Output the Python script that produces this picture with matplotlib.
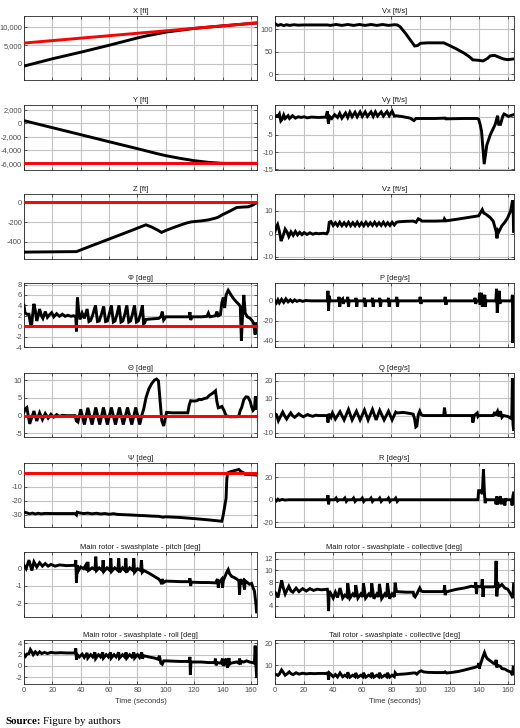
import matplotlib
matplotlib.use('Agg')
import matplotlib.pyplot as plt
from matplotlib.ticker import FuncFormatter

plt.rcParams['font.family'] = ['Liberation Sans', 'DejaVu Sans']

# ---- data (time in seconds) ----
x_t = [0, 10, 20, 30, 40, 50, 60, 70, 80, 88, 95, 100, 110, 120, 130, 140, 150, 164]
x_v = [-700, 300, 1300, 2200, 3100, 4050, 5000, 6000, 7000, 7700, 8200, 8600, 9100, 9600,
       9960, 10300, 10630, 11100]
x_ref_t = [0, 164]
x_ref_v = [5600, 11100]

y_t = [0, 20, 40, 60, 80, 93, 100, 110, 120, 130, 140, 164]
y_v = [400, -650, -1700, -2760, -3800, -4500, -4850, -5250, -5600, -5850, -6000, -6000]
y_ref_t = [0, 164]
y_ref_v = [-6000, -6000]

z_t = [0, 37, 45, 55, 65, 75, 82, 86, 90, 94, 97, 100, 105, 110, 115, 118, 125, 130,
       135, 137, 140, 145, 150, 155, 158, 161, 164]
z_v = [-505, -500, -455, -400, -345, -290, -250, -228, -250, -280, -305, -285, -258, -232,
       -208, -198, -188, -178, -160, -150, -125, -90, -52, -47, -45, -30, -5]
z_ref_t = [0, 164]
z_ref_v = [0, 0]

phi_t = [0, 0.7, 2, 3.5, 4.5, 5.2, 6, 7, 8, 9, 10, 11, 12.3, 13.3, 15, 16.5, 18, 19.5, 21,
         23, 25, 27, 29, 31, 33, 35, 36.5, 37, 37.3, 37.7, 38.5, 39.5, 41, 42.5, 44.5, 45.8,
         47, 48.5, 50.4, 51.8, 53, 54.5, 56.2, 57.5, 58.8, 60, 61.6, 63, 64.2, 65.5, 67,
         68.4, 69.7, 71, 72.5, 73.9, 75.1, 76.4, 77.9, 79.3, 80.6, 82, 83.5, 84.3, 85, 86,
         90, 95, 96.5, 97.5, 98.5, 100, 110, 116.5, 117, 117.5, 118.5, 125, 129, 130, 131,
         135, 136, 137, 138.5, 139.5, 140.5, 141.5, 142.5, 144, 146, 148, 150, 151.5, 152.5,
         153.3, 154, 155, 156, 157.5, 159.5, 161, 162, 163, 163.7, 164]
phi_v = [4, 2.6, 2.3, 2.3, 0.5, -0.3, 2, 4.3, 3, 1, 2, 3.3, 2, 1.5, 2.8, 1.7, 2.2, 2.6, 1.8,
         2.4, 1.9, 2.3, 1.9, 2.1, 1.9, 2, 1.8, -1, 3, 5.5, 3, 1.3, 2.5, 1.5, 3.3, 0.9,
         1.1, 2.2, 4, 0.9, 1, 2.2, 3.8, 0.9, 1, 2.2, 4, 0.8, 1, 2.2, 4,
         0.8, 1, 2.2, 4, 0.8, 1, 2.2, 4, 0.8, 1, 2.2, 4, 0.5, 0.6, 1.3,
         1.4, 1.5, 1.8, 2.8, 1.2, 1.8, 1.8, 1.8, 2.7, 1.2, 1.8, 1.8, 1.9, 2.5, 1.8,
         2, 2.8, 2, 2.2, 4.5, 5.5, 3.5, 6, 6.9, 6, 5.2, 4.6, 4.2, 3.8,
         -2.8, 1.5, 6, 2.5, 1.8, 1.5, 1, 0.5, -1.6, 0.7, 0.5]
phi_ref_t = [0, 164]
phi_ref_v = [0, 0]

theta_t = [0, 1, 2, 3, 4, 5.5, 7, 9, 11, 13, 15, 17, 19, 21, 23, 25, 27, 30, 33, 36, 37, 38,
           40, 42.6, 45, 48, 50.6, 53.4, 56, 58.8, 61.6, 64.5, 67.3, 70, 73, 76, 78.8, 81.6,
           83, 84.5, 86, 88, 90, 92, 93.5, 94.8, 96, 97.2, 98.5, 99.5, 100.5, 105, 110,
           115.5, 116.5, 117.5, 120, 122, 123.5, 125, 127, 129, 131, 133, 135, 136, 137, 138,
           139.5, 141, 142.5, 145, 150, 151.5, 152.5, 153.5, 155, 156.5, 158, 159.5, 160.5,
           161.5, 162.5, 163.2, 163.6, 164]
theta_v = [1, 2, 2.3, 0, -2.3, -0.5, 1.3, -1.5, 0.8, -1.1, 0.6, -0.7, 0.4, -0.4, 0.3, -0.2,
           0.1, 0, 0, 0, -1.5, -1.8, 1.8, -2.5, 2.2, -2.5, 2.3, -2.5, 2.3, -2.5, 2.3, -2.5,
           2.3, -2.5, 2.3, -2.5, 2.3, -2.5, 0, 2, 5, 7.5, 9, 10, 10.3, 9.8, 4, -1.5, -2.9,
           -1, 0.9, 0.8, 0.8, 0.8, 3, 4.2, 4.1, 4.2, 4.6, 4.5, 4.8, 5, 5.8, 6.3, 7, 4, 2.2,
           2.3, 2.6, 1.5, 0, -0.3, -0.3, 0, 1.5, 2.3, 4.5, 5.3, 5.2, 4, 2.5, 1.5, 2, 5.5, 4, 2]
theta_ref_t = [0, 164]
theta_ref_v = [0, 0]

psi_t = [0, 2, 4, 6, 8, 10, 12, 15, 20, 25, 30, 36, 37, 37.5, 39, 42, 45, 48, 51, 54, 57,
         60, 63, 66, 70, 75, 80, 85, 90, 95, 98, 100, 110, 120, 130, 139.5, 140.5, 141.5,
         142.5, 143, 143.5, 146, 149, 151.5, 153, 155, 156, 160, 164]
psi_v = [-28, -28.5, -29.2, -28.7, -29.3, -28.8, -29.2, -28.9, -29, -29, -29, -29, -30, -28,
         -28.5, -29, -28.7, -29.2, -28.8, -29.3, -29, -29.5, -29.1, -29.6, -29.8, -30,
         -30.3, -30.5, -30.8, -31, -31.6, -31.3, -31.8, -32.6, -33.5, -34.5, -30, -24, -18,
         -5, 0, 1, 1.8, 2.5, 1, 0, -1, -1.2, -1.5]
psi_ref_t = [0, 164]
psi_ref_v = [0, 0]

pitch_t = [0, 1.5, 3.5, 4.5, 5.5, 7, 9, 11, 13, 15, 17, 19, 22, 25, 30, 36, 36.5, 37, 37.5,
           38.5, 40, 42, 43.5, 44.5, 45, 45.5, 48, 50, 50.6, 51.2, 53, 55.2, 55.8, 56.4,
           58.5, 60.6, 61.2, 61.8, 64, 66.2, 66.8, 67.4, 69.5, 71.2, 71.8, 72.4, 74.5, 76.8,
           77.4, 78, 80, 82.2, 82.8, 83.4, 84.5, 89, 93, 95, 96.5, 97, 97.5, 98.5, 100, 105,
           110, 116.5, 117, 117.5, 118, 125, 130, 135, 136.5, 137, 137.5, 139.5, 140, 140.5,
           142, 143, 144, 145, 146.5, 148, 150, 151.5, 152, 152.5, 153.5, 154.5, 155.5, 156,
           157.5, 159, 160.5, 161.5, 162.5, 163.2, 163.7, 164]
pitch_v = [0.2, 0, 0.5, 0.2, -0.1, 0.4, 0.1, 0.35, 0.15, 0.3, 0.15, 0.25, 0.15, 0.22, 0.18,
           0.2, 0.5, -0.8, 0.2, -0.1, 0.1, 0, 0.2, -0.1, 0.4, -0.1, 0.05, -0.05, 0.7, -0.1,
           0.05, -0.1, 0.5, -0.15, 0.05, -0.1, 0.6, -0.15, 0.05, -0.1, 0.6, -0.2, 0.05, -0.1,
           0.6, -0.2, 0.05, -0.1, 0.6, -0.2, 0, -0.1, 0.5, -0.2, -0.1, -0.3, -0.5, -0.6,
           -0.75, -0.9, -0.6, -0.8, -0.72, -0.73, -0.75, -0.75, -0.55, -1, -0.78, -0.8, -0.8,
           -0.82, -0.6, -1.1, -0.8, -0.6, -1.1, -0.7, -0.4, -0.2, -0.05, -0.3, -0.45, -0.5,
           -0.6, -0.7, -1.5, -0.6, -0.8, -0.7, -1.2, -0.7, -0.8, -0.9, -0.85, -1.1, -1.3,
           -1.8, -2.2, -2.5]

roll_t = [0, 1, 2, 3.5, 4.5, 5.5, 6.5, 8, 9.5, 11, 12.5, 14.5, 16.5, 19, 22, 26, 30, 36,
          36.5, 37, 37.5, 39, 41, 42.5, 44.5, 45, 47, 48.5, 50, 50.5, 52.5, 54, 55.5, 56, 58,
          59.5, 61, 61.5, 63.5, 65, 66.8, 67.3, 69.5, 71, 72, 72.5, 74.5, 76, 77.5, 78, 80,
          81.5, 83, 83.5, 84.5, 88, 92, 94.5, 95.5, 96.5, 97.5, 98.5, 100, 110, 116.5, 117,
          117.3, 117.7, 125, 130, 134.5, 135, 135.5, 136, 139, 140, 140.5, 141.5, 142.5, 143,
          143.5, 144.5, 145, 146, 148, 150, 151.5, 152, 152.5, 153.5, 155, 157, 159, 161,
          162.5, 163, 163.5, 164]
roll_v = [2, 1.7, 2.1, 2.2, 2.9, 2.5, 2, 2.5, 2.1, 2.5, 2.2, 2.4, 2.2, 2.4, 2.3, 2.35, 2.3,
          2.3, 3.1, 1.1, 2, 1.6, 2.1, 1.5, 2.3, 1.4, 2, 1.6, 2.4, 1.3, 2, 1.6, 2.4, 1.4, 2,
          1.6, 2.4, 1.4, 2, 1.6, 2.4, 1.4, 2, 1.6, 2.4, 1.4, 2, 1.6, 2.4, 1.4, 2, 1.5, 2.4,
          1.3, 1.8, 1.6, 1.4, 1.2, 1.8, 0.5, 0.3, 0.9, 0.9, 0.8, 0.8, 1.6, -1.6, 0.7, 0.7,
          0.6, 0.6, 1.3, 0.1, 0.6, 0.5, 1.3, 0, 0.6, 1.3, 0.1, -0.3, 1.4, 0.3, 0.5, 0.6,
          0.7, 0.5, 1.3, 0.3, 0.8, 0.7, 0.9, 0.7, 0.6, 0.5, 3.6, 0.5, -1.9]

vx_t = [0, 2, 4, 6, 8, 10, 13, 16, 20, 25, 30, 36, 38, 42, 46, 50, 54, 58, 62, 66, 70, 74,
        78, 82, 84, 86, 90, 94, 96, 98, 100, 105, 110, 116, 120, 125, 130, 134, 136, 140,
        143, 146, 148, 151, 154, 157, 160, 164]
vx_v = [113, 109, 111, 108.5, 110.5, 109, 110.5, 109.5, 110, 110, 110, 110, 109, 111, 109,
        111, 109, 111, 109, 111, 109, 111, 109, 110.5, 110, 106, 90, 72, 63, 64, 69, 70, 70,
        70, 64, 56, 47, 38, 32, 31, 29.5, 35, 41, 42, 38, 34, 32.5, 34]

vy_t = [0, 1, 2, 3, 4, 5, 6, 7, 8, 9, 10, 12, 14, 16, 18, 20, 22, 25, 30, 35, 36, 36.7,
        37.5, 39, 41, 43, 44.5, 46, 48.5, 50, 51.5, 53, 55, 56.5, 58.5, 60, 62, 63.5, 66,
        67.5, 69, 70.5, 73, 74.5, 77, 78.5, 80.5, 82, 83.5, 88, 93, 95.5, 97, 100, 110,
        117, 117.5, 130, 139, 140, 141, 142, 143.8, 145.6, 148, 151.4, 153, 153.8, 155,
        156.7, 157.5, 160.5, 164]
vy_v = [0.2, 0.5, 0.3, 1, -1, -0.5, 0.7, -0.3, 0.1, 0.5, -0.3, 0.5, -0.2, 0.2, 0, 0.2, -0.1,
        0.1, 0, 0.1, 1.8, -1.8, 0.3, -0.3, 0.8, 0, 1.2, -0.2, 1.3, 0, 1.5, 0.2, 1.5, 0.2,
        1.6, 0.3, 1.6, 0.3, 1.6, 0.3, 1.6, 0.4, 1.6, 0.4, 1.7, 0.5, 1.8, 0.4, 0.5, 0.2,
        -0.2, -0.9, -0.3, -0.3, -0.3, -0.2, -0.4, -0.3, -0.3, -0.5, -2, -4, -13.5, -8, -5,
        -2, 0.5, -2, -2, 0.5, 1, 0.3, 0.8]

vz_t = [0, 1, 1.8, 3, 4.2, 5.5, 7, 8.5, 9.5, 11, 12.5, 14, 15.5, 17, 18.5, 20, 22, 24, 26,
        28, 30, 33, 35.5, 36.5, 37.3, 38.5, 40, 41.5, 43, 44.5, 46, 47.5, 49, 50.5, 52,
        53.5, 55, 56.5, 58, 59.5, 61, 62.5, 64, 65.5, 67, 68.5, 70, 71.5, 73, 74.5, 76,
        77.5, 79, 80.5, 82, 83.5, 85, 90, 95, 97, 98.5, 100, 101, 110, 116, 116.5, 117.5,
        125, 130, 135, 140, 142.5, 143.5, 145, 148, 150, 152, 152.6, 153.3, 154, 156, 158,
        160, 162, 163.3, 163.8, 164]
vz_v = [1, 3, 4, 1, -3.2, -1, 2, 0.5, -1.2, 0.8, -0.7, 1, -0.5, 0.6, -0.4, 0.5, -0.3, 0.4,
        -0.2, 0.2, 0, 0.2, 0, 1, 5, 5.3, 3.6, 4.8, 3.5, 5, 3.5, 4.8, 3.5, 5, 3.5, 4.8, 3.5,
        5, 3.5, 4.8, 3.5, 5, 3.6, 4.8, 3.6, 5, 3.6, 4.8, 3.6, 5, 3.6, 4.8, 3.6, 5, 3.8, 5,
        5.2, 5.4, 5.5, 5, 6.5, 6, 5.5, 5.5, 5.6, 6.5, 5.6, 6.3, 6.8, 7.3, 7.8, 10.5, 9,
        8.5, 7, 5.5, 1, -2, 1.5, 1, 3.5, 5, 7, 10, 14.5, 8, 1]

p_t = [0, 1, 2, 3, 4.5, 6, 7.5, 9, 10.5, 12, 13.5, 15, 17, 19, 21, 25, 36, 36.4, 36.8,
       37.3, 38, 43.5, 44, 44.5, 45, 46.5, 47, 47.5, 49.5, 50, 50.5, 51, 55.2, 55.7, 56.2,
       56.7, 61, 61.5, 62, 62.5, 66.5, 67, 67.5, 68, 71.5, 72, 72.5, 73, 77.5, 78, 78.5, 79,
       83.2, 83.7, 84.2, 84.7, 99.3, 99.8, 100.3, 100.8, 116.5, 117, 117.5, 118, 137,
       137.5, 138, 138.5, 140.3, 140.6, 141, 141.5, 142, 142.5, 143, 144.3, 144.6, 145,
       151.8, 152.3, 152.8, 153.3, 154.2, 154.6, 155, 162.8, 163.2, 163.6, 164]
p_v = [0, -2, 1, -2, 1.5, -1.5, 2, -1, 1, -1, 1, -0.5, 0.5, -0.5, 0.3, 0, 0, 10, -10, 5, 0,
       0, 4, -6, 0, 2, -3, 0, 0, 4, -6, 0, 0, 3, -6, 0, 0, 3, -6, 0, 0, 3, -6, 0, 0, 3,
       -6, 0, 0, 3, -6, 0, 0, 4, -6, 0, 0, 4, -3, 0, 0, 4, -4, 0, 0, 3, -3, 0, 0, 8, -4, 0,
       8, -6, 0, 6, -6, 0, 0, 12, -12, 0, 10, -3, 0, 0, 6, -42, -1]

q_t = [0, 1, 2.3, 3.5, 5.3, 6.5, 8, 9.5, 10.8, 12, 13.5, 15, 16.3, 18, 19.5, 21, 22.5, 24,
       26, 28, 30, 36, 36.4, 37, 38.5, 39.5, 41.5, 44.7, 47.5, 50.5, 53, 56, 58.5, 61.5,
       64, 67, 69.5, 72, 75, 78, 80.5, 83, 84, 88, 92, 95, 96, 96.8, 97.5, 98.5, 99.5,
       100.5, 102, 116, 116.5, 117.2, 135.5, 136, 136.5, 137, 139, 139.5, 140, 150, 151,
       151.5, 153, 154, 155, 156, 157, 160, 162, 162.8, 163.2, 163.6, 164]
q_v = [1, 0.5, -3, -1, 2, 0, -2, 0, 1.5, 0, -1, 0, 1, 0, -0.7, 0, 0.6, 0, -0.4, 0.2, 0, 0,
       -4, 1, -1, 1.5, -2, 2.2, -2.5, 3.5, -2.5, 2.5, -2.5, 3.2, -2.5, 3.5, -2.5, 3, -2.5,
       2.5, -2.5, 2, 1.5, 1.8, 1.3, 0.8, -2, -6.5, -6, 0.5, 2.5, 0.5, 0, 0, 4.5, 0, 0, -4,
       -2, 0, 1.5, -0.5, 0, 0, 2, 0, 2.5, -0.5, 2.5, -1, 0, -0.5, -1.5, 0, 21.5, -5, -8]

r_t = [0, 1, 2, 3, 5, 7, 9, 36, 36.4, 36.8, 37.3, 41, 42, 43, 44, 47, 48, 49, 50, 53, 54,
       55, 56, 59, 60, 61, 62, 65, 66, 67, 68, 71, 72, 73, 74, 77, 78, 79, 80, 82, 83, 84,
       85, 139.5, 140, 141.5, 142.5, 143.3, 144, 144.5, 145, 151.5, 152, 152.5, 153, 154,
       155, 155.5, 156, 157.5, 158, 158.5, 159, 162.5, 163, 163.5, 164]
r_v = [0, -1, 0.5, -0.5, 0.3, -0.3, 0, 0, 4, -4, 0, 0, 1.5, -1, 0, 0, 1.5, -1.5, 0, 0, 1.5,
       -1.5, 0, 0, 1.5, -1.5, 0, 0, 1.5, -1.5, 0, 0, 1.5, -1.5, 0, 0, 1.5, -1.5, 0, 0,
       1.5, -1.5, 0, 0, 8, 8, 5, 27, 5, -3, 0, 0, -4, 3, -4, 0, 3, -4, 0, 0, -5, 1, 0, 0,
       -5, 3, 6]

coll_t = [0, 1, 2, 3, 4.6, 5.5, 7, 8.5, 9.5, 11, 12.3, 14.5, 16.5, 19, 21.5, 24, 26.5, 29,
          32, 36, 36.4, 36.8, 37.3, 38.5, 40, 41.5, 43, 44.7, 46.5, 48, 49.5, 50, 51.5, 53.5,
          55, 55.5, 57, 59, 60.3, 60.8, 62.3, 64.5, 66, 66.5, 68, 70, 71.3, 71.8, 73.3,
          75.5, 76.8, 77.3, 78.8, 80.5, 82, 82.6, 83.5, 90, 95, 95.5, 96.3, 97.5, 99.5,
          100.5, 101.5, 110, 116.2, 116.6, 117, 117.5, 120, 125, 130, 135, 137.5, 138,
          138.5, 139, 142, 142.5, 143, 143.5, 150, 151.5, 152, 152.5, 153, 154, 156, 158,
          160, 162, 163.5, 164]
coll_v = [6.3, 6, 5.4, 6.5, 8.3, 7.2, 6, 6.8, 7.3, 6.5, 6.3, 7, 6.4, 6.9, 6.5, 6.9, 6.6,
          6.8, 6.7, 6.8, 6.2, 3.1, 6.5, 6, 5.3, 6.3, 5.4, 7, 5.3, 5.8, 5.5, 7.8, 5.3, 6,
          5.5, 7.5, 5.3, 6, 5.5, 7.8, 5.3, 6, 5.5, 7.8, 5.2, 6, 5.5, 7.7, 5.2, 6, 5.5, 7.8,
          5.2, 6, 5.5, 7.9, 6.4, 6.3, 6.3, 5.7, 5.5, 6, 7, 6.5, 6.4, 6.4, 6.4, 7.5, 5.8,
          6.3, 6.5, 6.8, 7, 7.3, 7.2, 8, 6, 7.3, 7.2, 8.5, 5.5, 7.2, 7.2, 7.3, 11.6, 5.6,
          8, 7.2, 7.6, 7, 6.8, 6, 5.3, 7.6]

tail_t = [0, 1, 2, 3, 4.5, 5.5, 7, 8.5, 9.8, 11, 12.5, 14.5, 16.5, 19, 21.5, 24, 27, 30,
          36, 36.4, 36.8, 37.3, 38.5, 40, 41.5, 43, 44.7, 46.5, 48, 49.5, 50, 51.5, 53.5,
          55, 55.5, 57, 59, 60.3, 60.8, 62.3, 64.5, 66, 66.5, 68, 70, 71.3, 71.8, 73.3,
          75.5, 76.8, 77.3, 78.8, 80.5, 82, 82.6, 83.5, 90, 95, 96.5, 97.5, 99, 100.5, 102,
          105, 110, 116, 117, 118, 122, 126, 130, 134, 137, 139.5, 140, 140.5, 141, 142,
          143, 144, 145, 146, 148, 150, 151.5, 152, 152.5, 153, 155, 156, 158, 160, 162,
          163.3, 163.8, 164]
tail_v = [6, 5.7, 5.4, 6, 7.9, 7, 5.5, 6.2, 7, 6.2, 5.8, 6.6, 6, 6.4, 6.1, 6.3, 6.2, 6.3,
          6.3, 7, 3.5, 6.5, 5.8, 4.8, 5.8, 4.7, 6.5, 4.8, 5.5, 4.8, 6.8, 4.6, 5.5, 4.8, 6.5,
          4.6, 5.5, 4.8, 6.6, 4.6, 5.5, 4.8, 6.6, 4.6, 5.5, 4.8, 6.6, 4.6, 5.5, 4.8, 6.6,
          4.6, 5.5, 4.8, 6.6, 5.8, 6.1, 6.5, 6.5, 6, 7, 7.5, 7, 6.8, 6.7, 6.7, 7, 6.5, 6.8,
          7.2, 7.8, 8.5, 9, 9.5, 11, 8.5, 10, 12, 14, 15.8, 14, 13, 12, 11, 10.5, 12.5, 9,
          10, 9.5, 8.5, 8.3, 7.5, 7, 5.5, 9.5, 9]

# (title, t, v, ref_t, ref_v, ylim, yticks)
left_panels = [
    ('X [ft]', x_t, x_v, x_ref_t, x_ref_v, (-4500, 13000), [0, 5000, 10000]),
    ('Y [ft]', y_t, y_v, y_ref_t, y_ref_v, (-7000, 2750), [-6000, -4000, -2000, 0, 2000]),
    ('Z [ft]', z_t, z_v, z_ref_t, z_ref_v, (-575, 85), [-400, -200, 0]),
    ('\u03a6 [deg]', phi_t, phi_v, phi_ref_t, phi_ref_v, (-4, 8.3), [-4, -2, 0, 2, 4, 6, 8]),
    ('\u0398 [deg]', theta_t, theta_v, theta_ref_t, theta_ref_v, (-6, 12), [-5, 0, 5, 10]),
    ('\u03a8 [deg]', psi_t, psi_v, psi_ref_t, psi_ref_v, (-38.6, 7.1), [-30, -20, -10, 0]),
    ('Main rotor - swashplate - pitch [deg]', pitch_t, pitch_v, None, None, (-2.8, 0.97), [-2, -1, 0]),
    ('Main rotor - swashplate - roll [deg]', roll_t, roll_v, None, None, (-3.2, 4.6), [-2, 0, 2, 4]),
]
right_panels = [
    ('Vx [ft/s]', vx_t, vx_v, None, None, (-13, 130), [0, 50, 100]),
    ('Vy [ft/s]', vy_t, vy_v, None, None, (-15.2, 3.6), [-15, -10, -5, 0]),
    ('Vz [ft/s]', vz_t, vz_v, None, None, (-11, 17.3), [-10, 0, 10]),
    ('P [deg/s]', p_t, p_v, None, None, (-46, 17.8), [-40, -20, 0]),
    ('Q [deg/s]', q_t, q_v, None, None, (-12.3, 24.4), [-10, 0, 10, 20]),
    ('R [deg/s]', r_t, r_v, None, None, (-24, 32.4), [-20, 0, 20]),
    ('Main rotor - swashplate - collective [deg]', coll_t, coll_v, None, None, (2.1, 13.1), [4, 6, 8, 10, 12]),
    ('Tail rotor - swashplate - collective [deg]', tail_t, tail_v, None, None, (1.5, 21.5), [10, 20]),
]
time_ticks = [0, 20, 40, 60, 80, 100, 120, 140, 160]

W, H = 520, 728
fig = plt.figure(figsize=(W / 100, H / 100), dpi=100)
fig.patch.set_facecolor('white')

# pixel rows (top, bottom) and columns (left, right)
rows_px = [(16, 80), (105, 170), (194, 259), (283, 347), (373, 437), (463, 527), (552, 617), (640, 684)]
cols_px = [(24, 257), (275, 514)]

FS = 5.4
tick_fmt = FuncFormatter(lambda v, pos: f'{v:,.0f}')

for ci, panels in enumerate([left_panels, right_panels]):
    l, r = cols_px[ci]
    for ri, (title, t, v, rt, rv, ylim, yt) in enumerate(panels):
        top, bot = rows_px[ri]
        ax = fig.add_axes([l / W, 1 - bot / H, (r - l) / W, (bot - top) / H])
        ax.plot(t, v, color='black', lw=2.1, solid_joinstyle='miter', zorder=3)
        if rt is not None:
            ax.plot(rt, rv, color='#ff0000', lw=2.1, zorder=4)
        ax.set_xlim(0, 164.3)
        ax.set_ylim(*ylim)
        ax.set_xticks(time_ticks)
        ax.set_yticks(yt)
        ax.yaxis.set_major_formatter(tick_fmt)
        ax.grid(True, color='#c4c4c4', lw=0.8)
        ax.set_axisbelow(True)
        ax.tick_params(direction='in', length=2.5, width=0.5, labelsize=FS, pad=1.4,
                       colors='#262626', labelcolor='#4d4d4d', top=True, right=True)
        ax.tick_params(axis='x', pad=2.5)
        for s in ax.spines.values():
            s.set_color('#262626')
            s.set_linewidth(0.6)
        ax.set_title(title, fontsize=FS, pad=2.5, color='#1a1a1a')
        if ri == len(panels) - 1:
            ax.set_xlabel('Time (seconds)', fontsize=FS, labelpad=2.5, color='#333333')
        else:
            ax.tick_params(labelbottom=False)

# source line
src = fig.text(5 / W, 1 - 722 / H, 'Source:', fontsize=7.8, fontweight='bold',
               family='Liberation Serif', va='center', ha='left')
fig.canvas.draw()
bb = src.get_window_extent()
fig.text((bb.x1 + 2.5) / W, 1 - 722 / H, 'Figure by authors', fontsize=7.8,
         family='Liberation Serif', va='center', ha='left')

fig.savefig('out.png', dpi=100)
